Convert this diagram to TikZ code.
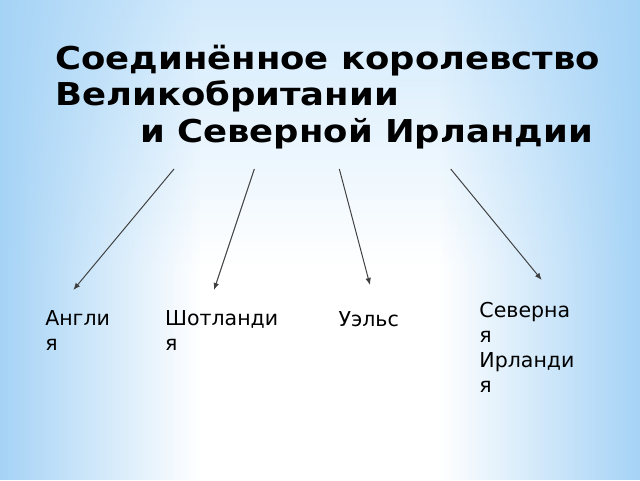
\documentclass[tikz,border=0pt]{standalone}
\usepackage{fontspec}
\setmainfont{DejaVu Sans}
\newfontfamily\titlefont{DejaVu Sans}[FakeStretch=1.125]
\usetikzlibrary{arrows.meta,fadings}

\definecolor{skyedge}{RGB}{165,211,246}
\definecolor{skytop}{RGB}{210,234,252}
\pgfdeclareverticalshading{skyfall}{100bp}{color(0bp)=(white); color(25bp)=(white); color(47bp)=(white); color(75bp)=(skytop); color(100bp)=(skytop)}
\tikzfading[name=fade left, left color=transparent!0, right color=transparent!100]
\tikzfading[name=fade right, left color=transparent!100, right color=transparent!0]

\tikzset{
  headline/.style={anchor=base west, inner sep=0pt, font=\titlefont\bfseries\fontsize{22.4}{26}\selectfont},
  country/.style={anchor=north west, inner sep=0pt, align=left, font=\fontsize{14.6}{17.8}\selectfont},
  link/.style={draw=black!75, line width=0.7pt, -{Latex[length=5pt,width=4pt]}}
}

\begin{document}
\begin{tikzpicture}
	\useasboundingbox (0,0) rectangle (16,12);
	% background
	\shade[shading=skyfall] (0,0) rectangle (16,12);
	\fill[skyedge, path fading=fade left] (0,0) rectangle (5,12);
	\fill[skyedge, path fading=fade right] (11,0) rectangle (16,12);
	% title
	\node[headline] (t1) at (1.375,10.26) {Соединённое королевство};
	\node[headline] (t2) at (1.375,9.36) {Великобритании};
	\node[headline] (t3) at (3.5,8.44) {и Северной Ирландии};
	% parts
	\node[country] (eng) at (1.125,4.25) {Англи\\я};
	\node[country] (sco) at (4.12,4.25) {Шотланди\\я};
	\node[country] (wal) at (8.458,4.225) {Уэльс};
	\node[country] (nir) at (11.98,4.457) {Северна\\я\\Ирланди\\я};
	% arrows
	\coordinate (eng-s) at (4.35,7.775);
	\coordinate (eng-e) at (1.833,4.75);
	\coordinate (sco-s) at (6.358,7.775);
	\coordinate (sco-e) at (5.35,4.75);
	\coordinate (wal-s) at (8.483,7.775);
	\coordinate (wal-e) at (9.25,4.875);
	\coordinate (nir-s) at (11.268,7.775);
	\coordinate (nir-e) at (13.543,5.0);
	\draw[link] (eng-s) -- (eng-e);
	\draw[link] (sco-s) -- (sco-e);
	\draw[link] (wal-s) -- (wal-e);
	\draw[link] (nir-s) -- (nir-e);
\end{tikzpicture}
\end{document}
